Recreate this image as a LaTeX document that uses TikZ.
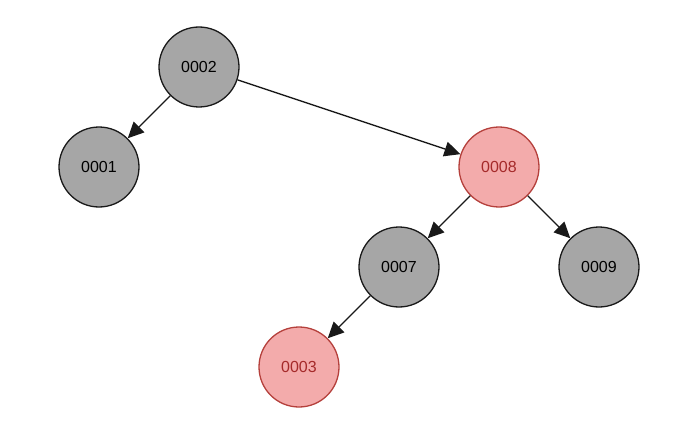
\documentclass[tikz,border=0pt]{standalone}
\usepackage{fontspec}
\setmainfont{Liberation Sans}
\usetikzlibrary{arrows.meta}
\definecolor{grayfill}{HTML}{A6A6A6}
\definecolor{redfill}{HTML}{F3ABAB}
\definecolor{redline}{HTML}{B5403C}
\definecolor{redtext}{HTML}{A52A2A}
\begin{document}
\begin{tikzpicture}[x=1pt,y=-1pt,
  tnode/.style={circle,draw=black!90,line width=1.3pt,fill=grayfill,minimum size=80pt,inner sep=0pt,font=\fontsize{16}{16}\selectfont},
  rnode/.style={tnode,draw=redline,fill=redfill,text=redtext},
  edge/.style={draw=black!90,line width=1.4pt,-{Triangle[length=16pt,width=15pt]}}]
\useasboundingbox (0,0) rectangle (678,444);
\node[tnode] (n2) at (199,67) {0002};
\node[tnode] (n1) at (99,167) {0001};
\node[rnode] (n8) at (499,167) {0008};
\node[tnode] (n7) at (399,267) {0007};
\node[tnode] (n9) at (599,267) {0009};
\node[rnode] (n3) at (299,367) {0003};
\draw[edge] (n2) -- (n1);
\draw[edge] (n2) -- (n8);
\draw[edge] (n8) -- (n7);
\draw[edge] (n8) -- (n9);
\draw[edge] (n7) -- (n3);
\end{tikzpicture}
\end{document}
